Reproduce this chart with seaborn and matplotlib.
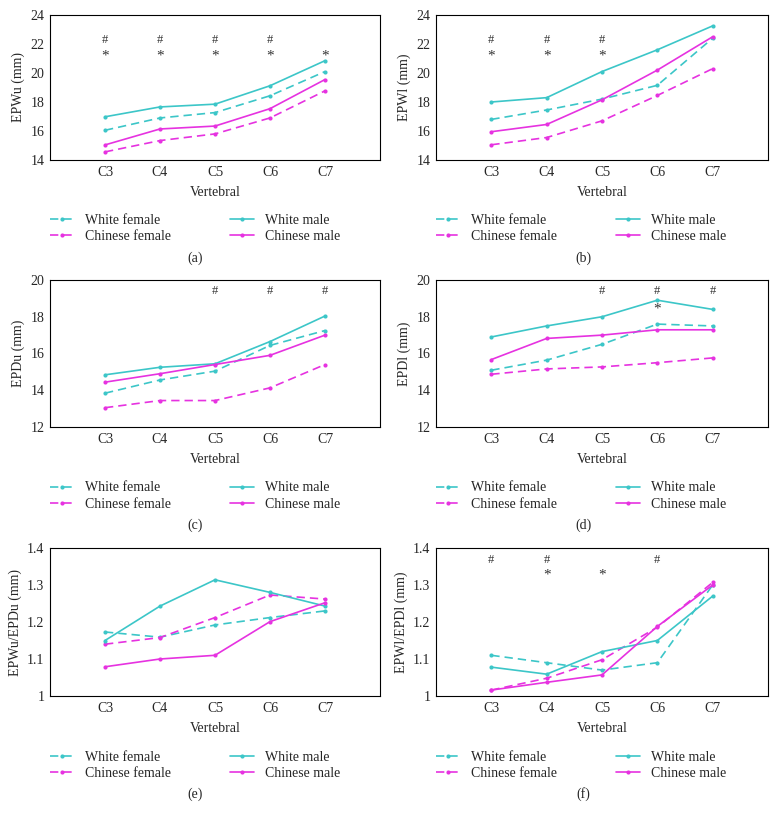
import matplotlib
matplotlib.use('Agg')
import matplotlib.pyplot as plt
import seaborn as sns
import pandas as pd

# x categories and groups
vertebrae = ['C3', 'C4', 'C5', 'C6', 'C7']
groups = ['White female', 'Chinese female', 'White male', 'Chinese male']

# (a) EPWu
epwu = {
    'White female': [16.05, 16.9, 17.27, 18.43, 20.1],
    'Chinese female': [14.56, 15.34, 15.8, 16.9, 18.77],
    'White male': [16.98, 17.66, 17.85, 19.12, 20.85],
    'Chinese male': [15.04, 16.14, 16.34, 17.54, 19.55],
}
# (b) EPWl
epwl = {
    'White female': [16.8, 17.45, 18.2, 19.15, 22.4],
    'Chinese female': [15.05, 15.55, 16.7, 18.45, 20.3],
    'White male': [18.0, 18.3, 20.1, 21.6, 23.25],
    'Chinese male': [15.95, 16.45, 18.15, 20.2, 22.5],
}
# (c) EPDu
epdu = {
    'White female': [13.84, 14.56, 15.04, 16.44, 17.25],
    'Chinese female': [13.05, 13.44, 13.44, 14.13, 15.4],
    'White male': [14.84, 15.25, 15.44, 16.65, 18.04],
    'Chinese male': [14.44, 14.9, 15.4, 15.9, 17.0],
}
# (d) EPDl
epdl = {
    'White female': [15.09, 15.64, 16.5, 17.6, 17.5],
    'Chinese female': [14.87, 15.16, 15.27, 15.5, 15.76],
    'White male': [16.9, 17.5, 18.0, 18.9, 18.4],
    'Chinese male': [15.67, 16.82, 17.0, 17.29, 17.29],
}
# (e) EPWu/EPDu
ratio_u = {
    'White female': [1.173, 1.159, 1.192, 1.212, 1.23],
    'Chinese female': [1.14, 1.158, 1.212, 1.273, 1.262],
    'White male': [1.15, 1.243, 1.314, 1.28, 1.243],
    'Chinese male': [1.079, 1.1, 1.11, 1.201, 1.252],
}
# (f) EPWl/EPDl
ratio_l = {
    'White female': [1.11, 1.09, 1.07, 1.09, 1.3],
    'Chinese female': [1.016, 1.048, 1.098, 1.186, 1.307],
    'White male': [1.078, 1.059, 1.12, 1.15, 1.27],
    'Chinese male': [1.016, 1.037, 1.057, 1.188, 1.3],
}

# significance marks (# and *)
hash_a, star_a = ['C3', 'C4', 'C5', 'C6'], ['C3', 'C4', 'C5', 'C6', 'C7']
hash_b, star_b = ['C3', 'C4', 'C5'], ['C3', 'C4', 'C5']
hash_c, star_c = ['C5', 'C6', 'C7'], []
hash_d, star_d = ['C5', 'C6', 'C7'], ['C6']
hash_e, star_e = [], []
hash_f, star_f = ['C3', 'C4', 'C6'], ['C4', 'C5']

cyan = '#3cc6c8'
magenta = '#e632e0'
palette = {'White female': cyan, 'White male': cyan,
           'Chinese female': magenta, 'Chinese male': magenta}
dashes = {'White female': (5, 3), 'Chinese female': (5, 3),
          'White male': '', 'Chinese male': ''}
markers = {g: 'o' for g in groups}

sns.set_theme(style='white')
plt.rcParams['font.family'] = ['Liberation Serif', 'DejaVu Serif']
plt.rcParams['font.size'] = 9.5

panels = [
    (epwu, 'EPWu (mm)', (14, 24), [14, 16, 18, 20, 22, 24], hash_a, star_a, 22.25, 21.15, '(a)'),
    (epwl, 'EPWl (mm)', (14, 24), [14, 16, 18, 20, 22, 24], hash_b, star_b, 22.25, 21.15, '(b)'),
    (epdu, 'EPDu (mm)', (12, 20), [12, 14, 16, 18, 20], hash_c, star_c, 19.4, 18.4, '(c)'),
    (epdl, 'EPDl (mm)', (12, 20), [12, 14, 16, 18, 20], hash_d, star_d, 19.4, 18.4, '(d)'),
    (ratio_u, 'EPWu/EPDu (mm)', (1, 1.4), [1, 1.1, 1.2, 1.3, 1.4], hash_e, star_e, 1.368, 1.328, '(e)'),
    (ratio_l, 'EPWl/EPDl (mm)', (1, 1.4), [1, 1.1, 1.2, 1.3, 1.4], hash_f, star_f, 1.368, 1.328, '(f)'),
]

W, H = 779, 819
fig = plt.figure(figsize=(W / 100, H / 100), dpi=100)

lefts = [50, 436]
widths = [330, 332]
tops = [15, 280, 548]
bottoms = [160, 427, 696]
label_x = [195, 583]

for i, (vals, ylabel, ylim, yticks, hashes, stars, hy, sy, letter) in enumerate(panels):
    row, col = divmod(i, 2)
    ax = fig.add_axes([lefts[col] / W, 1 - bottoms[row] / H,
                       widths[col] / W, (bottoms[row] - tops[row]) / H])
    df = pd.DataFrame([
        {'Vertebral': v, 'value': vals[g][k], 'group': g}
        for g in groups for k, v in enumerate(vertebrae)
    ])
    sns.lineplot(data=df, x='Vertebral', y='value', hue='group', style='group',
                 hue_order=groups, style_order=groups, palette=palette,
                 dashes=dashes, markers=markers, markersize=3,
                 markeredgewidth=0, linewidth=1.2, errorbar=None, sort=False, ax=ax)
    ax.set_xlim(-1, 5)
    ax.set_ylim(*ylim)
    ax.set_yticks(yticks)
    ax.set_yticklabels(['{:g}'.format(t) for t in yticks])
    ax.set_xlabel('Vertebral', fontsize=10, labelpad=5)
    ax.set_ylabel(ylabel, fontsize=10, labelpad=4)
    ax.tick_params(direction='in', length=3, width=0.8, labelsize=10, pad=4)
    for s in ax.spines.values():
        s.set_color('black')
        s.set_linewidth(0.8)

    for v in hashes:
        ax.text(vertebrae.index(v), hy, '#', ha='center', va='center', fontsize=9, color='#333333')
    for v in stars:
        ax.text(vertebrae.index(v), sy, '*', ha='center', va='center', fontsize=11, color='#333333')

    sns.move_legend(ax, 'upper left', bbox_to_anchor=(0, -0.37), ncol=2,
                    frameon=False, title=None, fontsize=10, handlelength=1.7,
                    columnspacing=4.3, handletextpad=0.8, borderaxespad=0,
                    borderpad=0, labelspacing=0.25)
    fig.text(label_x[col] / W, 1 - (bottoms[row] + 98) / H, letter,
             ha='center', va='center', fontsize=10)

fig.savefig('out.png', dpi=100)
